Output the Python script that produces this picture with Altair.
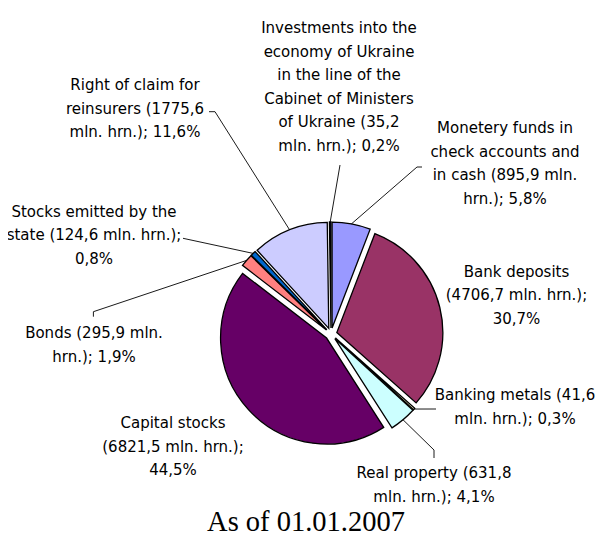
import altair as alt
import pandas as pd
import numpy as np

# ---------------- data ----------------
categories = [
    "Monetery funds", "Bank deposits", "Banking metals", "Real property",
    "Capital stocks", "Bonds", "Stocks emitted by the state",
    "Right of claim for reinsurers", "Investments into the economy",
]
values = [895.9, 4706.7, 41.6, 631.8, 6821.5, 295.9, 124.6, 1775.6, 35.2]
label_lines = [
    ["Monetery funds in", "check accounts and", "in cash (895,9 mln.", "hrn.); 5,8%"],
    ["Bank deposits", "(4706,7 mln. hrn.);", "30,7%"],
    ["Banking metals (41,6", "mln. hrn.); 0,3%"],
    ["Real property (631,8", "mln. hrn.); 4,1%"],
    ["Capital stocks", "(6821,5 mln. hrn.);", "44,5%"],
    ["Bonds (295,9 mln.", "hrn.); 1,9%"],
    ["Stocks emitted by the", "state (124,6 mln. hrn.);", "0,8%"],
    ["Right of claim for", "reinsurers (1775,6", "mln. hrn.); 11,6%"],
    ["Investments into the", "economy of Ukraine", "in the line of the",
     "Cabinet of Ministers", "of Ukraine (35,2", "mln. hrn.); 0,2%"],
]
title_text = "As of 01.01.2007"

# ---------------- styles / layout ----------------
colors = ["#9999FF", "#993366", "#FFFFCC", "#CCFFFF", "#660066",
          "#FF8080", "#0066CC", "#CCCCFF", "#000080"]
M = 8  # page margin
W, H = 590, 530
CX, CY = 331 - M, 334 - M
R = 106
EXPLODE = 6
LH = 23.5
FONT = "DejaVu Sans"
FS = 15

# label anchors (center x, first line y) in page coords
label_anchor = [
    (505, 128.3), (516.5, 271.7), (515, 395), (434, 473.3),
    (173, 423.3), (94, 333.3), (94, 211.7), (135, 85), (339, 28),
]
# leader lines: points near the label; the last point is on the slice rim
leader_start = {
    0: [(422, 167), (417, 167)],
    2: [(436, 409)],
    3: [(434, 458), (434, 450)],
    5: [(93.4, 316.7), (93.4, 311.7)],
    6: [(183, 238.3)],
    7: [(209, 111.7), (215, 111.7)],
    8: [(340, 165)],
}

# ---------------- tables ----------------
df = pd.DataFrame({"cat": categories, "value": values, "idx": list(range(len(values)))})

rows = []
for i, lines in enumerate(label_lines):
    ax, ay = label_anchor[i]
    for j, t in enumerate(lines):
        rows.append({"text": t, "x": ax - M, "y": ay - M + j * LH})
text_df = pd.DataFrame(rows)

tot = float(np.sum(values))
cum = np.cumsum(values)
lrows = []
for i, pts in leader_start.items():
    mid = 2 * np.pi * (cum[i] - values[i] / 2) / tot
    rim = (CX + (R + EXPLODE) * np.sin(mid), CY - (R + EXPLODE) * np.cos(mid))
    allpts = [(px - M, py - M) for px, py in pts] + [rim]
    for k, (px, py) in enumerate(allpts):
        lrows.append({"id": i, "o": k, "x": px, "y": py})
leader_df = pd.DataFrame(lrows)

# ---------------- chart ----------------
pie = alt.Chart(df).transform_joinaggregate(
    total="sum(value)"
).transform_window(
    cum="sum(value)", sort=[alt.SortField("idx")], frame=[None, 0]
).transform_calculate(
    t1="2*PI*datum.cum/datum.total",
    t0="2*PI*(datum.cum-datum.value)/datum.total",
).transform_calculate(
    mid="(datum.t0+datum.t1)/2"
).transform_calculate(
    px=f"{CX}+{EXPLODE}*sin(datum.mid)",
    py=f"{CY}-{EXPLODE}*cos(datum.mid)",
).mark_arc(outerRadius=R, stroke="black", strokeWidth=1.3).encode(
    theta=alt.Theta("t0:Q", scale=None),
    theta2=alt.Theta2("t1:Q"),
    x=alt.X("px:Q", scale=None, axis=None),
    y=alt.Y("py:Q", scale=None, axis=None),
    color=alt.Color("cat:N", scale=alt.Scale(domain=categories, range=colors), legend=None),
)

leaders = alt.Chart(leader_df).mark_line(color="black", strokeWidth=0.9).encode(
    x=alt.X("x:Q", scale=None, axis=None),
    y=alt.Y("y:Q", scale=None, axis=None),
    detail="id:N",
    order="o:Q",
)

labels = alt.Chart(text_df).mark_text(
    font=FONT, fontSize=FS, color="black", align="center", baseline="middle"
).encode(
    x=alt.X("x:Q", scale=None, axis=None),
    y=alt.Y("y:Q", scale=None, axis=None),
    text="text:N",
)

title = alt.Chart(pd.DataFrame({"t": [title_text]})).mark_text(
    font="Liberation Serif", fontSize=28.5, color="black", align="center",
    baseline="alphabetic"
).encode(
    x=alt.value(306 - M),
    y=alt.value(H - 7),
    text="t:N",
)

chart = alt.layer(pie, leaders, labels, title).properties(
    width=W, height=H, padding=0, autosize="none"
).configure_view(stroke=None)

chart.save("out.html", embed_options={"renderer": "svg", "actions": False})
